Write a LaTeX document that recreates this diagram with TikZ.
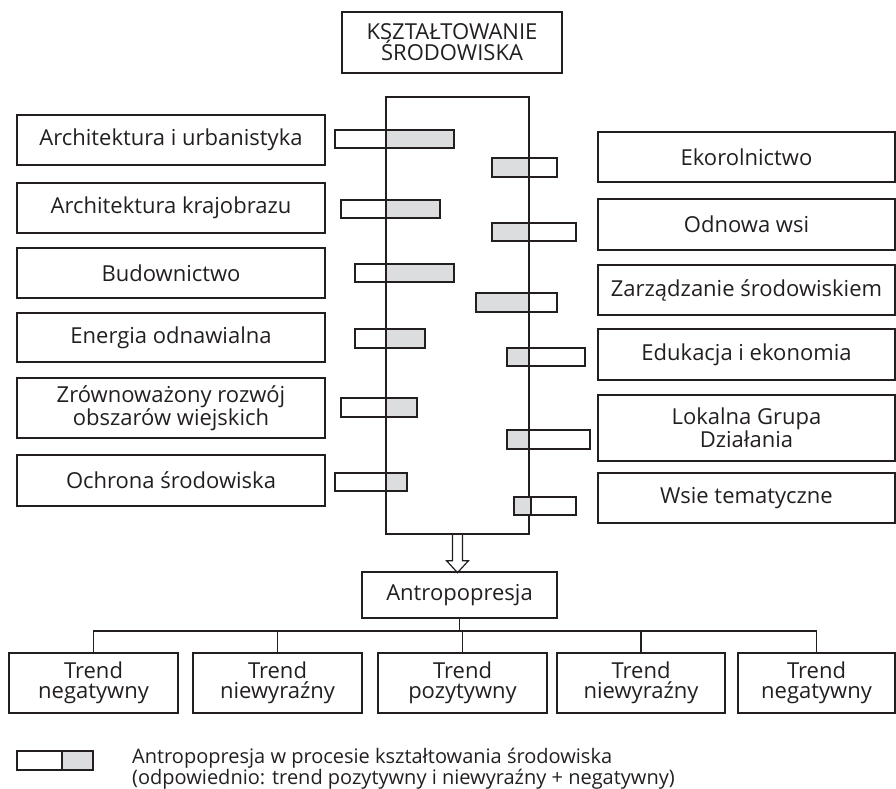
\documentclass[tikz,border=0pt]{standalone}
\usepackage{fontspec}
\setmainfont{Open Sans}
\usetikzlibrary{calc}

\definecolor{ink}{HTML}{231F20}
\definecolor{shade}{HTML}{DCDDDE}

\tikzstyle{field} = [
    rectangle,
    minimum width=308pt,
    minimum height=50pt,
    inner sep=0pt,
    align=center,
    draw=ink,
    line width=1.3pt,
    text=ink,
    font=\fontsize{22}{20}\selectfont
]
\tikzstyle{branch} = [
    field,
    minimum width=297pt
]
\tikzstyle{trend} = [
    field,
    minimum width=169pt,
    minimum height=60pt
]
\tikzstyle{headbox} = [
    field,
    minimum width=220pt,
    minimum height=61pt,
    font=\fontsize{22}{21}\selectfont
]
\tikzstyle{colbox} = [
    rectangle,
    minimum width=143pt,
    minimum height=437pt,
    inner sep=0pt,
    draw=ink,
    line width=1.3pt
]
\tikzstyle{barwhite} = [draw=ink, line width=1.8pt, fill=white]
\tikzstyle{bargrey} = [barwhite, fill=shade]
\tikzstyle{wire} = [draw=ink, line width=1.1pt]

\begin{document}
\begin{tikzpicture}[x=1pt, y=-1pt]

\useasboundingbox (0,0) rectangle (896,789);

\node (head) [headbox] at (452,42.5)
{KSZTAŁTOWANIE\\ŚRODOWISKA};

\node (column) [colbox] at (457.5,315.5) {};

% left side
\node (urban) [field] at (171,140)
{Architektura i urbanistyka};

\node (landscape) [field] at (171,208)
{Architektura krajobrazu};

\node (building) [field] at (171,273)
{Budownictwo};

\node (energy) [field, minimum height=49pt] at (171,337.5)
{Energia odnawialna};

\node (rural) [field, minimum height=60pt] at (171,408)
{Zrównoważony rozwój\\obszarów wiejskich};

\node (protect) [field, minimum height=51pt] at (171,480.5)
{Ochrona środowiska};

% right side
\node (ecofarm) [branch] at (746.5,157)
{Ekorolnictwo};

\node (renewal) [branch, minimum height=51pt] at (746.5,224.5)
{Odnowa wsi};

\node (manage) [branch] at (746.5,290)
{Zarządzanie środowiskiem};

\node (educ) [branch, minimum height=51pt] at (746.5,354.5)
{Edukacja i ekonomia};

\node (lag) [branch, minimum height=66pt] at (746.5,428)
{Lokalna Grupa\\Działania};

\node (themed) [branch] at (746.5,498)
{Wsie tematyczne};

% bars
\draw [barwhite] (335,130) rectangle (386,148);
\draw [bargrey] (386,130) rectangle (454,148);
\draw [barwhite] (341,200) rectangle (386,218);
\draw [bargrey] (386,200) rectangle (440,218);
\draw [barwhite] (355,264) rectangle (386,282);
\draw [bargrey] (386,264) rectangle (454,282);
\draw [barwhite] (355,329) rectangle (386,348);
\draw [bargrey] (386,329) rectangle (425,348);
\draw [barwhite] (341,398) rectangle (386,417);
\draw [bargrey] (386,398) rectangle (417,417);
\draw [barwhite] (335,473) rectangle (386,491);
\draw [bargrey] (386,473) rectangle (407,491);

\draw [bargrey] (492,158) rectangle (529,177);
\draw [barwhite] (529,158) rectangle (557,177);
\draw [bargrey] (492,223) rectangle (529,241);
\draw [barwhite] (529,223) rectangle (576,241);
\draw [bargrey] (476,293) rectangle (529,312);
\draw [barwhite] (529,293) rectangle (557,312);
\draw [bargrey] (507,348) rectangle (529,366);
\draw [barwhite] (529,348) rectangle (585,366);
\draw [bargrey] (507,430) rectangle (529,449);
\draw [barwhite] (529,430) rectangle (590,449);
\draw [bargrey] (514,497) rectangle (531,515);
\draw [barwhite] (531,497) rectangle (576,515);

% lower part
\node (anto) [field, minimum width=195pt, minimum height=46pt] at (459.5,595)
{Antropopresja};

\draw [wire, line width=1.2pt] (column.south) ++(-5,0) -- ++(0,26) -- ++(-6,0)
    -- ++(11,12) -- ++(11,-12) -- ++(-6,0) -- ++(0,-26);

\node (t1) [trend] at (93.5,683) {Trend\\negatywny};
\node (t2) [trend] at (277.5,683) {Trend\\niewyraźny};
\node (t3) [trend] at (462.5,683) {Trend\\pozytywny};
\node (t4) [trend, minimum width=168pt] at (641,683) {Trend\\niewyraźny};
\node (t5) [trend, minimum width=157pt] at (816.5,683) {Trend\\negatywny};

\coordinate (bus) at (0,631);

\draw [wire] (anto.south) -- (anto.south |- bus);
\draw [wire] (t1.north) -- (t1.north |- bus) -- (t5.north |- bus) -- (t5.north);
\draw [wire] (t2.north) -- (t2.north |- bus);
\draw [wire] (t3.north) -- (t3.north |- bus);
\draw [wire] (t4.north) -- (t4.north |- bus);

% legend
\draw [barwhite] (17,751) rectangle (62,770);
\draw [bargrey] (62,751) rectangle (93,770);

\node (legtext) [anchor=west, align=left, inner sep=0pt, text=ink,
    font=\fontsize{20}{18}\selectfont] at (132,769)
{Antropopresja w procesie kształtowania środowiska\\(odpowiednio: trend pozytywny i niewyraźny + negatywny)};

\end{tikzpicture}
\end{document}
